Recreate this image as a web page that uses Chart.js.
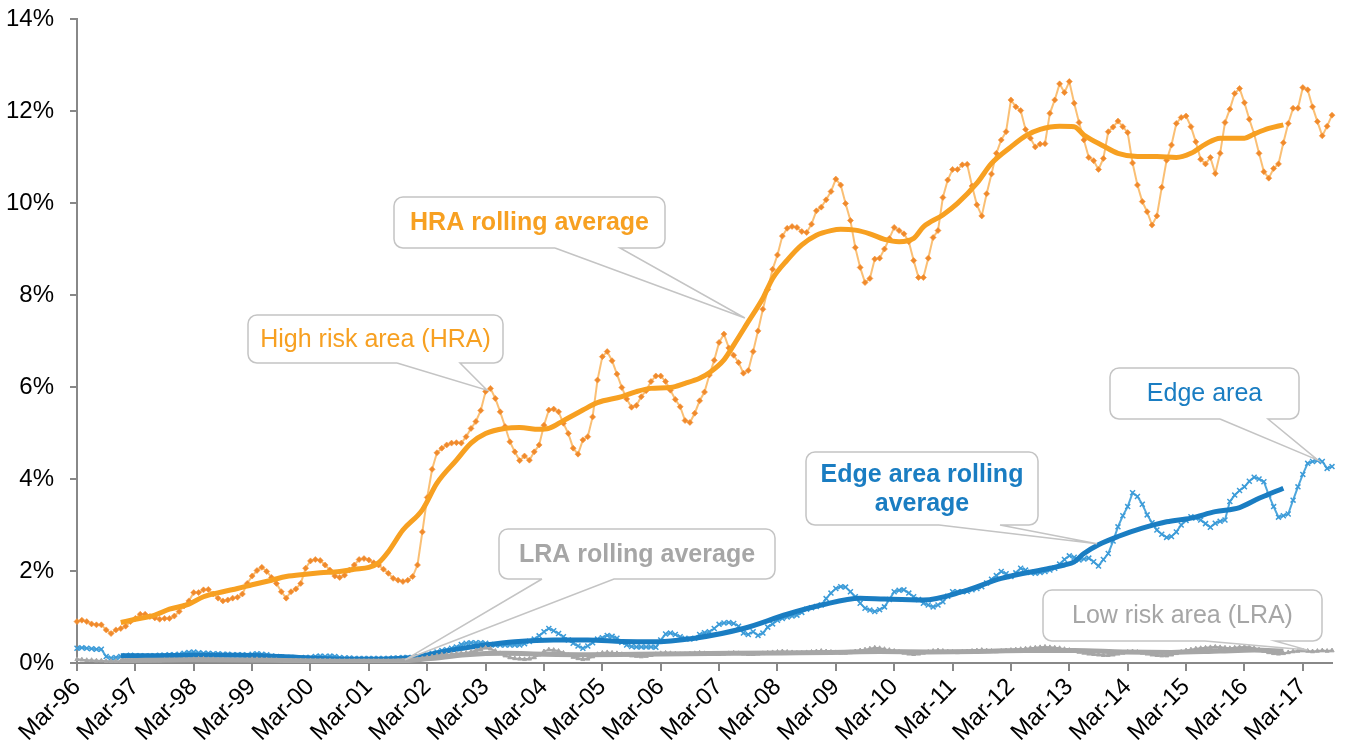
<!DOCTYPE html>
<html><head><meta charset="utf-8">
<script src="https://cdn.jsdelivr.net/npm/chart.js"></script>
<style>html,body{margin:0;padding:0;background:#fff;}#wrap{width:1345px;height:747px;}</style>
</head><body><div id="wrap"><canvas id="c" width="1345" height="747"></canvas></div>
<script>
// Year tick labels (every 12th monthly category)
const tickLabels = ['Mar-96','Mar-97','Mar-98','Mar-99','Mar-00','Mar-01','Mar-02','Mar-03','Mar-04','Mar-05','Mar-06','Mar-07','Mar-08','Mar-09','Mar-10','Mar-11','Mar-12','Mar-13','Mar-14','Mar-15','Mar-16','Mar-17'];
const monthNames = ['Mar','Apr','May','Jun','Jul','Aug','Sep','Oct','Nov','Dec','Jan','Feb'];
const nMonths = 259; // Mar-96 .. Sep-17

// High risk area (HRA), % monthly
const hra = [0.90,0.93,0.90,0.85,0.83,0.83,0.72,0.64,0.72,0.75,0.80,0.90,
0.97,1.06,1.06,1.01,0.98,0.95,0.97,0.97,1.02,1.12,1.24,1.35,
1.53,1.53,1.59,1.60,1.50,1.41,1.35,1.37,1.41,1.43,1.50,1.73,
1.89,2.01,2.08,1.99,1.86,1.73,1.55,1.41,1.55,1.61,1.73,2.06,
2.22,2.25,2.23,2.13,2.02,1.89,1.86,1.91,2.02,2.13,2.25,2.27,
2.24,2.18,2.13,2.04,1.95,1.84,1.80,1.77,1.80,1.88,2.13,2.85,
3.60,4.21,4.57,4.67,4.74,4.78,4.79,4.78,4.92,5.10,5.25,5.49,
5.90,5.97,5.75,5.46,5.14,4.81,4.59,4.40,4.50,4.41,4.59,4.74,
5.17,5.50,5.52,5.46,5.21,4.99,4.67,4.54,4.85,4.92,5.35,6.15,
6.66,6.77,6.57,6.28,5.99,5.74,5.56,5.60,5.79,5.92,6.12,6.24,
6.24,6.12,5.93,5.73,5.57,5.27,5.23,5.43,5.70,5.89,6.26,6.58,
6.97,7.15,6.85,6.69,6.53,6.30,6.36,6.77,7.22,7.69,8.12,8.56,
8.87,9.28,9.45,9.49,9.47,9.38,9.36,9.54,9.83,9.91,10.07,10.25,
10.52,10.39,9.99,9.62,9.03,8.60,8.27,8.36,8.78,8.80,9.00,9.23,
9.47,9.40,9.33,9.16,8.75,8.38,8.38,8.80,9.25,9.40,10.12,10.50,
10.73,10.73,10.83,10.84,10.37,9.96,9.72,10.20,10.63,11.08,11.37,11.55,
12.24,12.09,12.01,11.60,11.41,11.22,11.28,11.29,11.95,12.24,12.59,12.40,
12.64,12.17,11.75,11.37,10.99,10.92,10.73,10.97,11.55,11.65,11.78,11.66,
11.53,10.87,10.39,10.03,9.81,9.52,9.72,10.34,10.93,11.26,11.73,11.86,
11.89,11.66,11.33,10.95,10.85,10.99,10.64,11.08,11.75,12.04,12.38,12.49,
12.18,11.82,11.50,11.08,10.68,10.54,10.75,10.85,11.31,11.73,12.06,12.06,
12.51,12.46,12.09,11.77,11.46,11.67,11.91];

// HRA rolling average, read at these month indices
const hraAvgIdx = [9,12,16,19,23,26,30,33,36,40,43,47,50,54,57,60,62,64,67,71,74,78,81,84,88,91,95,97,100,104,107,112,115,118,122,125,128,130,133,135,138,141,143,146,149,152,155,157,160,163,166,169,172,174,178,181,185,188,192,195,198,202,205,207,211,214,218,222,226,229,232,235,240,242,245,248];
const hraAvgVal = [0.88,0.95,1.04,1.17,1.28,1.44,1.55,1.62,1.70,1.80,1.88,1.93,1.96,1.99,2.04,2.08,2.18,2.42,2.89,3.33,3.91,4.41,4.78,4.99,5.10,5.12,5.08,5.10,5.27,5.50,5.66,5.79,5.90,5.97,5.99,6.08,6.19,6.31,6.59,6.91,7.42,7.93,8.36,8.76,9.09,9.30,9.40,9.43,9.41,9.33,9.21,9.16,9.23,9.48,9.74,9.99,10.43,10.86,11.22,11.46,11.60,11.67,11.66,11.48,11.24,11.08,11.01,11.01,10.99,11.08,11.28,11.41,11.41,11.50,11.62,11.70];

// Edge area, % monthly
const edge = [0.32,0.33,0.32,0.31,0.30,0.30,0.14,0.11,0.12,0.14,0.16,0.17,
0.16,0.16,0.15,0.16,0.16,0.17,0.17,0.18,0.18,0.19,0.21,0.23,
0.24,0.22,0.21,0.21,0.20,0.20,0.19,0.19,0.18,0.18,0.18,0.17,
0.19,0.20,0.19,0.18,0.15,0.14,0.13,0.12,0.12,0.11,0.11,0.12,
0.12,0.14,0.15,0.14,0.15,0.14,0.12,0.11,0.11,0.10,0.10,0.10,
0.10,0.10,0.10,0.10,0.10,0.11,0.11,0.12,0.12,0.12,0.13,0.15,
0.18,0.21,0.24,0.27,0.29,0.32,0.35,0.40,0.43,0.44,0.44,0.44,
0.43,0.40,0.39,0.39,0.39,0.39,0.39,0.39,0.42,0.47,0.52,0.59,
0.68,0.75,0.70,0.64,0.57,0.50,0.43,0.37,0.32,0.37,0.44,0.52,
0.55,0.60,0.58,0.54,0.45,0.39,0.36,0.35,0.35,0.35,0.35,0.34,
0.50,0.63,0.65,0.62,0.57,0.54,0.52,0.54,0.62,0.66,0.68,0.75,
0.84,0.87,0.88,0.86,0.80,0.65,0.62,0.68,0.60,0.65,0.78,0.85,
0.93,0.97,1.00,1.02,1.04,1.10,1.17,1.20,1.23,1.26,1.40,1.52,
1.62,1.66,1.65,1.55,1.44,1.30,1.19,1.15,1.12,1.16,1.22,1.38,
1.55,1.58,1.59,1.52,1.44,1.38,1.30,1.26,1.22,1.26,1.33,1.45,
1.55,1.55,1.55,1.56,1.59,1.62,1.66,1.74,1.82,1.90,1.99,1.94,
1.88,1.96,2.06,2.02,1.97,1.95,1.97,1.99,2.02,2.06,2.15,2.25,
2.33,2.30,2.24,2.26,2.28,2.20,2.11,2.25,2.38,2.65,2.96,3.20,
3.40,3.70,3.62,3.45,3.22,3.05,2.89,2.80,2.73,2.75,2.85,3.00,
3.10,3.18,3.15,3.11,3.03,2.95,3.04,3.08,3.11,3.51,3.65,3.75,
3.83,3.95,4.04,4.00,3.94,3.65,3.40,3.17,3.20,3.24,3.54,3.83,
4.10,4.34,4.38,4.40,4.38,4.23,4.27];

// Edge area rolling average
const edgeAvgIdx = [9,15,24,33,42,50,60,69,77,84,90,98,105,112,118,127,137,146,153,161,166,174,182,190,200,203,205,207,210,214,219,224,229,234,239,243,248];
const edgeAvgVal = [0.16,0.16,0.17,0.17,0.14,0.10,0.08,0.12,0.28,0.39,0.46,0.50,0.50,0.47,0.46,0.54,0.75,1.06,1.26,1.41,1.39,1.37,1.55,1.84,2.06,2.13,2.20,2.38,2.57,2.75,2.93,3.07,3.15,3.29,3.38,3.58,3.80];

// Low risk area (LRA), % monthly
const lra = [0.08,0.07,0.06,0.06,0.05,0.05,0.04,0.04,0.04,0.04,0.05,0.05,
0.05,0.05,0.05,0.05,0.05,0.05,0.06,0.06,0.06,0.06,0.07,0.07,
0.08,0.09,0.09,0.08,0.08,0.07,0.07,0.06,0.06,0.06,0.06,0.07,
0.08,0.08,0.07,0.07,0.06,0.06,0.05,0.05,0.05,0.05,0.05,0.05,
0.05,0.05,0.05,0.05,0.05,0.04,0.04,0.04,0.04,0.04,0.04,0.04,
0.04,0.04,0.04,0.04,0.04,0.04,0.04,0.05,0.05,0.06,0.08,0.10,
0.12,0.14,0.16,0.18,0.18,0.19,0.20,0.21,0.22,0.24,0.27,0.30,
0.33,0.31,0.26,0.21,0.16,0.12,0.10,0.09,0.08,0.09,0.12,0.18,
0.25,0.29,0.28,0.26,0.22,0.17,0.13,0.10,0.08,0.09,0.14,0.19,
0.22,0.23,0.22,0.21,0.19,0.18,0.16,0.15,0.14,0.15,0.17,0.19,
0.21,0.22,0.21,0.20,0.19,0.19,0.20,0.21,0.22,0.21,0.20,0.19,
0.19,0.20,0.21,0.22,0.21,0.20,0.19,0.19,0.20,0.21,0.22,0.23,
0.24,0.25,0.24,0.23,0.22,0.22,0.23,0.24,0.25,0.26,0.25,0.24,
0.23,0.22,0.22,0.23,0.25,0.27,0.29,0.31,0.33,0.32,0.30,0.28,
0.26,0.24,0.22,0.20,0.19,0.20,0.22,0.24,0.26,0.27,0.26,0.25,
0.24,0.23,0.24,0.25,0.26,0.27,0.28,0.27,0.26,0.25,0.26,0.27,
0.28,0.29,0.30,0.31,0.32,0.33,0.34,0.35,0.34,0.33,0.32,0.30,
0.28,0.26,0.24,0.22,0.20,0.19,0.18,0.17,0.17,0.18,0.20,0.22,
0.24,0.25,0.24,0.22,0.20,0.18,0.17,0.16,0.16,0.18,0.21,0.24,
0.27,0.29,0.31,0.32,0.33,0.34,0.35,0.34,0.33,0.32,0.33,0.34,
0.35,0.34,0.32,0.29,0.26,0.23,0.21,0.20,0.21,0.23,0.25,0.26,
0.27,0.26,0.25,0.26,0.27,0.26,0.27];

// LRA rolling average
const lraAvgIdx = [9,24,40,55,65,72,80,88,96,105,115,125,135,145,155,165,175,185,195,205,215,225,235,242,248];
const lraAvgVal = [0.05,0.07,0.06,0.04,0.04,0.09,0.18,0.21,0.19,0.18,0.19,0.20,0.21,0.22,0.23,0.25,0.24,0.25,0.27,0.27,0.24,0.23,0.26,0.28,0.26];

// ---- build categories and sparse series ----
const categories = [];
for (let i = 0; i < nMonths; i++) {
  const yr = (96 + Math.floor((i + 2) / 12)) % 100;
  categories.push(monthNames[i % 12] + '-' + String(yr).padStart(2, '0'));
}
function sparse(idx, vals) {
  const a = new Array(nMonths).fill(null);
  idx.forEach((k, j) => { a[k] = vals[j]; });
  return a;
}
const ORANGE = '#F7A021', BLUE = '#1A7DC2', LBLUE = '#4DA6DC', GRAY = '#A6A6A6';
const FONT = "'Liberation Sans', Arial, sans-serif";

// Callouts: box in pixels, wedge tip anchored to data (month index, value)
const callouts = [
  {lines:['HRA rolling average'], bold:true, color:ORANGE, box:[394,197,665,248], base:[555,620], tip:[137.3,7.5]},
  {lines:['High risk area (HRA)'], bold:false, color:ORANGE, box:[248,315,503,363], base:[397,460], tip:[84.3,5.93]},
  {lines:['Edge area'], bold:false, color:BLUE, box:[1110,368,1299,419], base:[1220,1268], tip:[255.1,4.41]},
  {lines:['Edge area rolling','average'], bold:true, color:BLUE, box:[806,452,1038,525], base:[939,1000], tip:[209.7,2.59]},
  {lines:['LRA rolling average'], bold:true, color:GRAY, box:[499,529,775,579], base:[542,614], tip:[67.4,0.07]},
  {lines:['Low risk area (LRA)'], bold:false, color:GRAY, box:[1043,590,1322,641], base:[1205,1275], tip:[253,0.28]}
];

const calloutPlugin = {
  id: 'callouts',
  afterDraw(chart) {
    const ctx = chart.ctx, xs = chart.scales.x, ys = chart.scales.y;
    callouts.forEach(c => {
      const [x1,y1,x2,y2] = c.box, r = 9;
      const tx = xs.left + (xs.right - xs.left) * c.tip[0] / (nMonths - 1);
      const ty = ys.getPixelForValue(c.tip[1]);
      ctx.save();
      ctx.fillStyle = '#fff';
      ctx.beginPath(); ctx.roundRect(x1, y1, x2 - x1, y2 - y1, r); ctx.fill();
      ctx.strokeStyle = '#C4C4C4'; ctx.lineWidth = 1.5;
      ctx.beginPath();
      ctx.moveTo(c.base[0], y2);
      ctx.lineTo(x1 + r, y2);
      ctx.arcTo(x1, y2, x1, y2 - r, r);
      ctx.lineTo(x1, y1 + r);
      ctx.arcTo(x1, y1, x1 + r, y1, r);
      ctx.lineTo(x2 - r, y1);
      ctx.arcTo(x2, y1, x2, y1 + r, r);
      ctx.lineTo(x2, y2 - r);
      ctx.arcTo(x2, y2, x2 - r, y2, r);
      ctx.lineTo(c.base[1], y2);
      ctx.lineTo(tx, ty);
      ctx.lineTo(c.base[0], y2);
      ctx.stroke();
      ctx.fillStyle = c.color;
      ctx.font = (c.bold ? 'bold ' : '') + '25px ' + FONT;
      ctx.textAlign = 'center'; ctx.textBaseline = 'middle';
      const cx = (x1 + x2) / 2, cy = (y1 + y2) / 2, lh = 29;
      c.lines.forEach((t, k) => {
        ctx.fillText(t, cx, cy + (k - (c.lines.length - 1) / 2) * lh + 1);
      });
      ctx.restore();
    });
  }
};

new Chart(document.getElementById('c'), {
  type: 'line',
  data: {
    labels: categories,
    datasets: [
      {label:'HRA rolling average', data: sparse(hraAvgIdx, hraAvgVal), borderColor: ORANGE, borderWidth: 5, pointRadius: 0, spanGaps: true, cubicInterpolationMode: 'monotone'},
      {label:'High risk area (HRA)', data: hra, borderColor: 'rgba(248,170,70,0.75)', borderWidth: 2, pointStyle: 'rectRot', pointRadius: 3, pointBackgroundColor: '#F08A2C', pointBorderColor: 'rgba(245,150,60,0.6)', pointBorderWidth: 1},
      {label:'LRA rolling average', data: sparse(lraAvgIdx, lraAvgVal), borderColor: GRAY, borderWidth: 5, pointRadius: 0, spanGaps: true, cubicInterpolationMode: 'monotone'},
      {label:'Low risk area (LRA)', data: lra, borderColor: GRAY, borderWidth: 2, pointStyle: 'triangle', pointRadius: 2.5, pointBackgroundColor: GRAY, pointBorderColor: GRAY, pointBorderWidth: 1},
      {label:'Edge area rolling average', data: sparse(edgeAvgIdx, edgeAvgVal), borderColor: BLUE, borderWidth: 5, pointRadius: 0, spanGaps: true, cubicInterpolationMode: 'monotone'},
      {label:'Edge area', data: edge, borderColor: LBLUE, borderWidth: 2, pointStyle: 'crossRot', pointRadius: 3.5, pointBorderColor: '#3C9BD8', pointBorderWidth: 1.5}
    ]
  },
  options: {
    responsive: false,
    animation: false,
    events: [],
    layout: {padding: {top: 19, right: 13, left: 0, bottom: 0}},
    plugins: {legend: {display: false}, tooltip: {enabled: false}},
    scales: {
      x: {
        type: 'category',
        offset: false,
        afterFit(s) { s.height = 84; },
        border: {color: '#888', width: 2},
        grid: {drawOnChartArea: false, drawTicks: true, tickLength: 8, color: '#888', lineWidth: 2},
        ticks: {
          autoSkip: false, maxRotation: 45, minRotation: 45, padding: 2,
          color: '#000', font: {family: FONT, size: 24},
          callback: (v, i) => (i % 12 === 0 ? tickLabels[i / 12] : null)
        }
      },
      y: {
        min: 0, max: 14,
        afterFit(s) { s.width = 77; s.paddingTop = 0; s.paddingBottom = 0; },
        border: {color: '#888', width: 2},
        grid: {drawOnChartArea: false, drawTicks: true, tickLength: 7, color: '#888', lineWidth: 2},
        ticks: {stepSize: 2, padding: 16, color: '#000', font: {family: FONT, size: 24}, callback: v => v + '%'}
      }
    }
  },
  plugins: [calloutPlugin]
});
</script>
</body></html>
